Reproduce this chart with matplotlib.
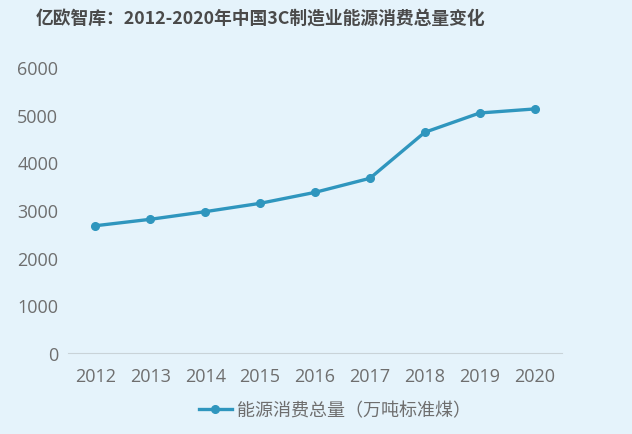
import matplotlib
matplotlib.use('Agg')
import matplotlib.pyplot as plt

plt.rcParams['font.family'] = ['Noto Sans CJK SC', 'DejaVu Sans']

years = ['2012', '2013', '2014', '2015', '2016', '2017', '2018', '2019', '2020']
energy = [2670, 2805, 2965, 3140, 3370, 3665, 4630, 5035, 5120]
yticks = [0, 1000, 2000, 3000, 4000, 5000, 6000]

bg = '#e5f3fb'
line_color = '#2f96be'
text_color = '#6e6e6e'

fig = plt.figure(figsize=(6.32, 4.35), dpi=100, facecolor=bg)
ax = fig.add_axes([68 / 632, (435 - 354) / 435, 494 / 632, 286 / 435])
ax.set_facecolor(bg)

x = list(range(len(years)))
ax.plot(x, energy, color=line_color, linewidth=2.4, marker='o', markersize=5.5,
        label='能源消费总量（万吨标准煤）')

ax.set_xlim(-0.5, len(years) - 0.5)
ax.set_ylim(0, 6000)
ax.set_xticks(x)
ax.set_xticklabels(years)
ax.set_yticks(yticks)

for s in ['top', 'right', 'left']:
    ax.spines[s].set_visible(False)
ax.spines['bottom'].set_color('#c9d3d8')
ax.tick_params(axis='both', length=0, labelsize=13, labelcolor=text_color)
for lab in ax.get_xticklabels() + ax.get_yticklabels():
    lab.set_family('Open Sans')
ax.tick_params(axis='x', pad=10)
ax.tick_params(axis='y', pad=7)

# title sits left of centre in the original
fig.text(260 / 632, 0.958, '亿欧智库：2012-2020年中国3C制造业能源消费总量变化',
         ha='center', va='center', fontsize=12.8, fontweight='bold', color='#4a4a4a')

leg = fig.legend(loc='center', bbox_to_anchor=(0.53, 0.055), frameon=False,
                 fontsize=13, handlelength=1.8, handletextpad=0.3)
for t in leg.get_texts():
    t.set_color(text_color)

fig.savefig('out.png', dpi=100, facecolor=bg)
